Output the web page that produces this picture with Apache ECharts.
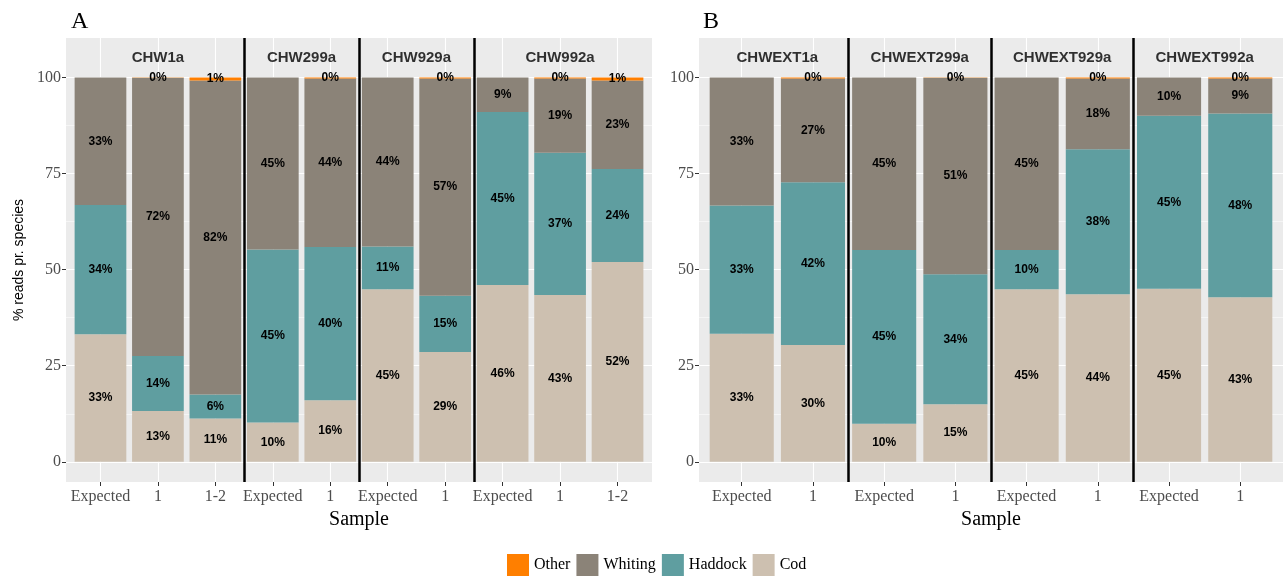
<!DOCTYPE html>
<html>
<head>
<meta charset="utf-8">
<script src="https://cdn.jsdelivr.net/npm/echarts@6/dist/echarts.min.js"></script>
<style>html,body{margin:0;padding:0;background:#fff;}#chart{width:1284px;height:578px;}</style>
</head>
<body>
<div id="chart"></div>
<script>
// ---- Data ----
const speciesNames = ['Other', 'Whiting', 'Haddock', 'Cod'];
const speciesColors = ['#FF7F00', '#8B8378', '#5F9EA0', '#CDC0B0'];
const yTicks = [0, 25, 50, 75, 100];
const yMinor = [12.5, 37.5, 62.5, 87.5];

// Panel A
const aFacets = ['CHW1a', 'CHW299a', 'CHW929a', 'CHW992a'];
const aSamples = [['Expected', '1', '1-2'], ['Expected', '1'], ['Expected', '1'], ['Expected', '1', '1-2']];
const aCod     = [33.2, 13.2, 11.3, 10.2, 16.0, 44.9, 28.6, 46.0, 43.4, 52.0];
const aHaddock = [33.6, 14.3,  6.2, 45.0, 39.9, 11.1, 14.6, 45.0, 37.0, 24.2];
const aWhiting = [33.2, 72.4, 81.7, 44.8, 43.8, 44.0, 56.5,  9.0, 19.3, 23.0];
const aOther   = [null,  0.1,  0.8, null,  0.3, null,  0.3, null,  0.3,  0.8];

// Panel B
const bFacets = ['CHWEXT1a', 'CHWEXT299a', 'CHWEXT929a', 'CHWEXT992a'];
const bSamples = [['Expected', '1'], ['Expected', '1'], ['Expected', '1'], ['Expected', '1']];
const bCod     = [33.3, 30.4,  9.9, 15.0, 44.9, 43.6, 45.0, 42.8];
const bHaddock = [33.4, 42.3, 45.2, 33.8, 10.2, 37.7, 45.0, 47.8];
const bWhiting = [33.3, 27.0, 44.9, 51.1, 44.9, 18.4, 10.0,  9.1];
const bOther   = [null,  0.3, null,  0.1, null,  0.3, null,  0.3];

// ---- Build ----
const serif = '"Liberation Serif", "Times New Roman", serif';
const sans = '"Liberation Sans", Arial, sans-serif';
const Y_MIN = -5.25, Y_MAX = 110.25;

const outerGrids = [
  { left: 66, top: 38, width: 586, height: 444, show: true, backgroundColor: '#EBEBEB', borderWidth: 0 },
  { left: 699, top: 38, width: 584, height: 444, show: true, backgroundColor: '#EBEBEB', borderWidth: 0 }
];
const grids = outerGrids.slice();
const xAxes = [], yAxes = [], series = [];

function buildPanel(pi, facets, samples, cod, had, whi, oth, yName) {
  const labels = [].concat(...samples);
  const n = labels.length;
  const idx = labels.map((_, i) => i);
  const og = outerGrids[pi];
  const slot = og.width / (n - 1 + 1.2);
  // inner grid for bars: category bands aligned with outer value axis
  const innerIndex = grids.length;
  grids.push({ left: og.left + 0.1 * slot, top: og.top, width: n * slot, height: og.height, show: false });

  // outer axes
  xAxes[pi] = {
    type: 'value', gridIndex: pi, min: -0.6, max: n - 1 + 0.6,
    name: 'Sample', nameLocation: 'middle', nameGap: 18,
    nameTextStyle: { fontFamily: serif, fontSize: 20, color: '#000' },
    axisLine: { show: false, onZero: false },
    axisTick: { show: true, customValues: idx, length: 4, lineStyle: { color: '#333', width: 1 } },
    axisLabel: { customValues: idx, formatter: v => labels[Math.round(v)] || '', fontFamily: serif, fontSize: 16, color: '#4d4d4d', margin: 7 },
    splitLine: { show: false }
  };
  yAxes[pi] = {
    type: 'value', gridIndex: pi, min: Y_MIN, max: Y_MAX,
    name: yName || '', nameLocation: 'middle', nameGap: 40, nameRotate: 90,
    nameTextStyle: { fontFamily: sans, fontSize: 14, color: '#000' },
    axisLine: { show: false, onZero: false },
    axisTick: { show: true, customValues: yTicks, length: 4, lineStyle: { color: '#333', width: 1 } },
    axisLabel: { customValues: yTicks, fontFamily: serif, fontSize: 16, color: '#4d4d4d', margin: 5 },
    splitLine: { show: false }
  };
  // inner axes (hidden)
  xAxes[innerIndex] = { type: 'category', gridIndex: innerIndex, data: labels, show: false, boundaryGap: true };
  yAxes[innerIndex] = { type: 'value', gridIndex: innerIndex, min: Y_MIN, max: Y_MAX, show: false };

  // grid lines
  const gridLineData = [];
  yTicks.forEach(v => gridLineData.push({ yAxis: v, lineStyle: { color: '#fff', width: 1.1, type: 'solid' } }));
  yMinor.forEach(v => gridLineData.push({ yAxis: v, lineStyle: { color: '#fff', width: 0.5, type: 'solid' } }));
  idx.forEach(v => gridLineData.push({ xAxis: v, lineStyle: { color: '#fff', width: 1.1, type: 'solid' } }));
  series.push({
    type: 'scatter', xAxisIndex: pi, yAxisIndex: pi, data: [], z: 1, silent: true,
    markLine: { z: 1, silent: true, symbol: ['none', 'none'], label: { show: false }, animation: false, data: gridLineData }
  });
  // facet separators and labels
  const seps = [], facetLabelData = [];
  let start = 0;
  samples.forEach((s, fi) => {
    const center = start + (s.length - 1) / 2;
    facetLabelData.push({ value: [center, 105], name: facets[fi] });
    start += s.length;
    if (fi < samples.length - 1) seps.push({ xAxis: start - 0.5 });
  });
  series.push({
    type: 'scatter', xAxisIndex: pi, yAxisIndex: pi, z: 6, silent: true, symbolSize: 0,
    data: facetLabelData,
    label: { show: true, position: 'inside', formatter: p => p.name, fontFamily: sans, fontWeight: 'bold', fontSize: 15, color: '#000' },
    markLine: { z: 6, silent: true, symbol: ['none', 'none'], label: { show: false }, animation: false,
      lineStyle: { color: '#000', width: 2.5, type: 'solid' }, data: seps }
  });
  // bars
  const vals = [cod, had, whi, oth];
  const names = ['Cod', 'Haddock', 'Whiting', 'Other'];
  names.forEach((nm, k) => {
    series.push({
      type: 'bar', name: nm, stack: 'p' + pi, xAxisIndex: innerIndex, yAxisIndex: innerIndex, z: 3,
      barWidth: '90%',
      itemStyle: { color: speciesColors[speciesNames.indexOf(nm)] },
      data: vals[k].map(v => v === null ? '-' : v),
      label: { show: true, position: 'inside', formatter: p => (p.value === '-' || p.value == null || isNaN(p.value)) ? '' : Math.round(p.value) + '%',
        fontFamily: sans, fontWeight: 'bold', fontSize: 12, color: '#000', textBorderWidth: 0 },
      emphasis: { disabled: true },
      animation: false
    });
  });
}

buildPanel(0, aFacets, aSamples, aCod, aHaddock, aWhiting, aOther, '% reads pr. species');
buildPanel(1, bFacets, bSamples, bCod, bHaddock, bWhiting, bOther, '');

const chart = echarts.init(document.getElementById('chart'), null, { renderer: 'canvas' });
chart.setOption({
  animation: false,
  backgroundColor: '#fff',
  title: [
    { text: 'A', left: 66, top: 5, textStyle: { fontFamily: serif, fontSize: 24, fontWeight: 'normal', color: '#000' } },
    { text: 'B', left: 698, top: 5, textStyle: { fontFamily: serif, fontSize: 24, fontWeight: 'normal', color: '#000' } }
  ],
  legend: {
    data: speciesNames, left: 507, top: 554, itemWidth: 22, itemHeight: 22, itemGap: 6, icon: 'rect', padding: 0,
    textStyle: { fontFamily: serif, fontSize: 16, color: '#000' }
  },
  grid: grids,
  xAxis: xAxes,
  yAxis: yAxes,
  series: series
});
</script>
</body>
</html>
